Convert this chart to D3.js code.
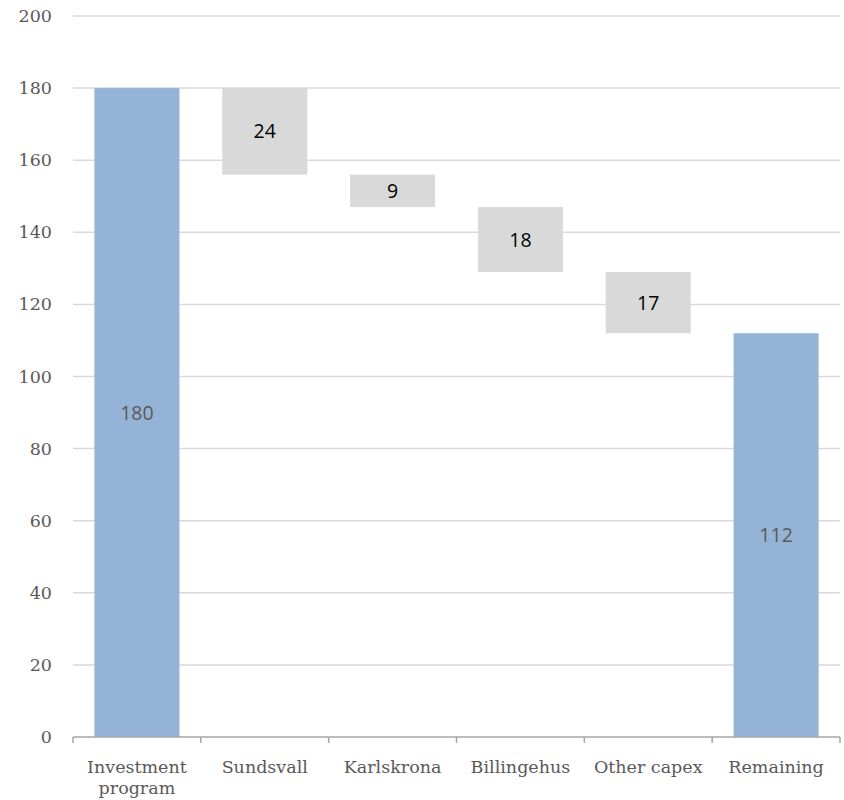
<!DOCTYPE html>
<html><head><meta charset="utf-8">
<script src="https://cdn.jsdelivr.net/npm/d3@7"></script>
<style>body{margin:0;background:#fff}</style>
</head><body>
<svg id="c" width="844" height="800"></svg>
<script>
const categories = ["Investment program","Sundsvall","Karlskrona","Billingehus","Other capex","Remaining"];
const baseValues = [0,156,147,129,112,0];
const barValues = [180,24,9,18,17,112];
const barTypes = ["total","step","step","step","step","total"];
const yTicks = [0,20,40,60,80,100,120,140,160,180,200];

const svg = d3.select("#c");
const m = {l:73, r:4, t:16, b:63};
const W = 844, H = 800;
const x = d3.scaleBand().domain(categories).range([m.l, W-m.r]).paddingInner(0.335).paddingOuter(0.1675);
const xb = d3.scaleBand().domain(categories).range([m.l, W-m.r]);
const y = d3.scaleLinear().domain([0,200]).range([H-m.b, m.t]);

// gridlines
svg.append("g").selectAll("line").data(yTicks.filter(d=>d>0)).join("line")
  .attr("x1", m.l).attr("x2", W-m.r).attr("y1", d=>y(d)).attr("y2", d=>y(d))
  .attr("stroke","#d9d9d9").attr("stroke-width",1.5);

// y labels
svg.append("g").selectAll("text").data(yTicks).join("text")
  .attr("x", 52).attr("y", d=>y(d)+6).attr("text-anchor","end")
  .attr("font-family","DejaVu Serif").attr("font-size",17.5).attr("fill","#595959")
  .text(d=>d);

const data = categories.map((c,i)=>({c, base:baseValues[i], v:barValues[i], t:barTypes[i]}));

svg.append("g").selectAll("rect").data(data).join("rect")
  .attr("x", d=>x(d.c)).attr("width", x.bandwidth())
  .attr("y", d=>y(d.base+d.v)).attr("height", d=>y(d.base)-y(d.base+d.v))
  .attr("fill", d=>d.t==="total"?"#95b3d7":"#d9d9d9");

svg.append("g").selectAll("text").data(data).join("text")
  .attr("x", d=>x(d.c)+x.bandwidth()/2).attr("y", d=>y(d.base+d.v/2)+7)
  .attr("text-anchor","middle").attr("font-family","Open Sans").attr("font-size",19.5)
  .attr("fill", d=>d.t==="total"?"#595959":"#000")
  .text(d=>d.v);

// x axis
const ax = svg.append("g");
ax.append("line").attr("x1",m.l).attr("x2",W-m.r).attr("y1",y(0)).attr("y2",y(0))
  .attr("stroke","#a6a6a6").attr("stroke-width",1.5);
const bounds = categories.map(c=>xb(c)).concat([W-m.r]);
ax.selectAll("line.t").data(bounds).join("line").attr("class","t")
  .attr("x1",d=>d).attr("x2",d=>d).attr("y1",y(0)).attr("y2",y(0)+6)
  .attr("stroke","#a6a6a6").attr("stroke-width",1.5);
const xl = ax.selectAll("text").data(categories).join("text")
  .attr("x", d=>xb(d)+xb.bandwidth()/2).attr("y", y(0)+36)
  .attr("text-anchor","middle").attr("font-family","DejaVu Serif").attr("font-size",17.5).attr("fill","#595959");
xl.each(function(d){
  const t = d3.select(this);
  const words = d==="Investment program" ? ["Investment","program"] : [d];
  words.forEach((w,i)=>t.append("tspan").attr("x", xb(d)+xb.bandwidth()/2).attr("dy", i===0?0:21).text(w));
});
</script>
</body></html>
